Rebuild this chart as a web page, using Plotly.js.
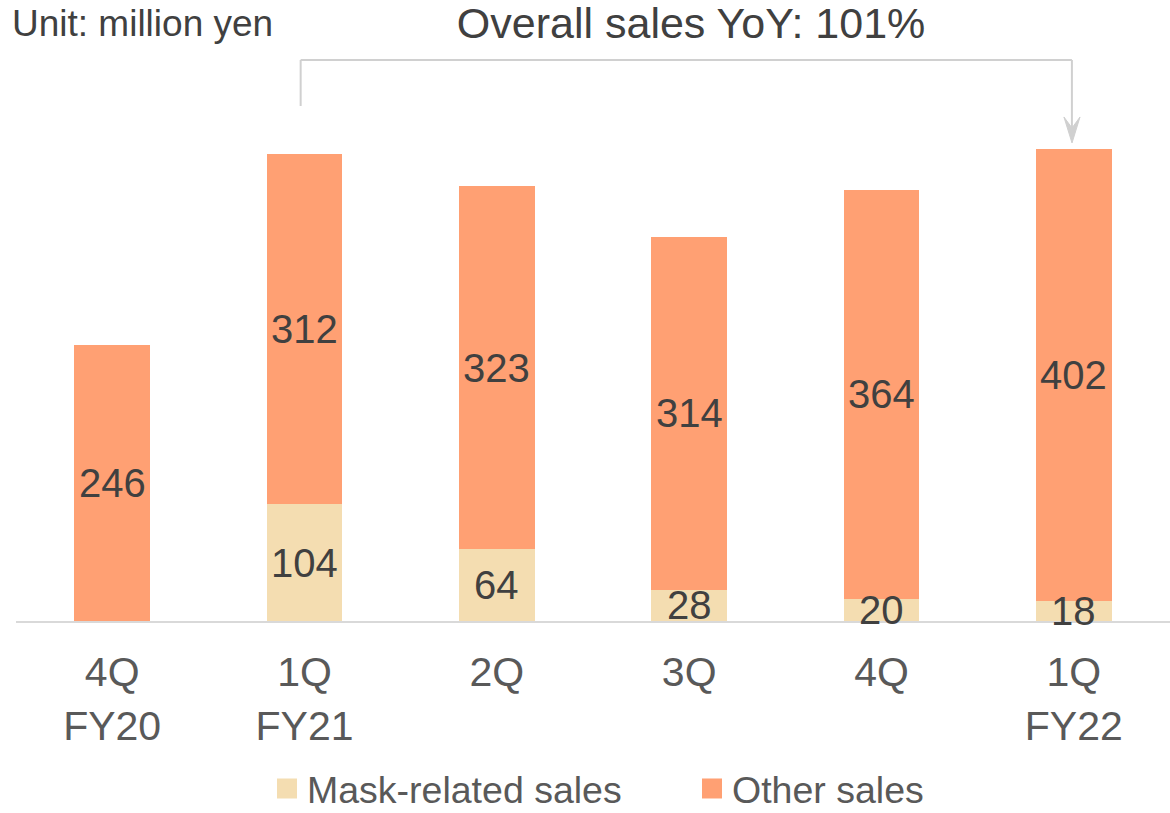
<!DOCTYPE html>
<html>
<head>
<meta charset="utf-8">
<script src="https://cdn.plot.ly/plotly-3.0.1.min.js"></script>
<style>html,body{margin:0;padding:0;background:#fff;}#chart{width:1170px;height:813px;}</style>
</head>
<body>
<div id="chart"></div>
<script>
const categories = ['4Q<br>FY20', '1Q<br>FY21', '2Q', '3Q', '4Q', '1Q<br>FY22'];
const maskSales = [0, 104, 64, 28, 20, 18];
const otherSales = [246, 312, 323, 314, 364, 402];
const seriesNames = ['Mask-related sales', 'Other sales'];
const chartTitle = 'Overall sales YoY: 101%';
const unitLabel = 'Unit: million yen';

const FONT = '"Liberation Sans", Arial, sans-serif';
const maskColor = '#F4DDB1';
const otherColor = '#FFA073';
const bracketColor = '#D0D0D0';

const traces = [
  { type: 'bar', name: seriesNames[0], x: categories, y: maskSales,
    marker: { color: maskColor, line: { width: 0 } }, hoverinfo: 'skip' },
  { type: 'bar', name: seriesNames[1], x: categories, y: otherSales,
    marker: { color: otherColor, line: { width: 0 } }, hoverinfo: 'skip' }
];

const annotations = [];
categories.forEach((c, i) => {
  if (maskSales[i] > 0) {
    annotations.push({ x: c, y: maskSales[i] / 2, xref: 'x', yref: 'y', text: String(maskSales[i]),
      showarrow: false, font: { family: FONT, size: 40, color: '#404040' }, yanchor: 'middle' });
  }
  annotations.push({ x: c, y: maskSales[i] + otherSales[i] / 2, xref: 'x', yref: 'y', text: String(otherSales[i]),
    showarrow: false, font: { family: FONT, size: 40, color: '#404040' }, yanchor: 'middle' });
});
annotations.push({ x: -0.0052, y: 1.146, xref: 'paper', yref: 'paper', xanchor: 'left', yanchor: 'middle',
  text: unitLabel, showarrow: false, font: { family: FONT, size: 37, color: '#404040' } });

// bracket from 1Q FY21 to 1Q FY22 with a stealth arrow head
const shapes = [
  { type: 'line', xref: 'x', yref: 'paper', x0: 0.98, x1: 0.98, y0: 0.9885, y1: 1.0768, line: { color: bracketColor, width: 2 } },
  { type: 'line', xref: 'x', yref: 'paper', x0: 0.98, x1: 4.99, y0: 1.0768, y1: 1.0768, line: { color: bracketColor, width: 2 } },
  { type: 'line', xref: 'x', yref: 'paper', x0: 4.99, x1: 4.99, y0: 1.0768, y1: 0.945, line: { color: bracketColor, width: 2 } },
  { type: 'path', xref: 'paper', yref: 'paper',
    path: 'M0.9151,0.9175 L0.9081,0.9674 L0.9151,0.9463 L0.9220,0.9674 Z',
    fillcolor: bracketColor, line: { color: bracketColor, width: 1 } }
];

const layout = {
  width: 1170, height: 813,
  margin: { l: 16, r: 0, t: 100, b: 192, autoexpand: false },
  paper_bgcolor: '#ffffff', plot_bgcolor: '#ffffff',
  barmode: 'stack', bargap: 0.605,
  showlegend: true,
  title: { text: chartTitle, x: 0.585, xref: 'paper', xanchor: 'center', y: 0.972, yref: 'container', yanchor: 'middle',
    font: { family: FONT, size: 43, color: '#404040' } },
  xaxis: { type: 'category', showline: true, linecolor: '#D9D9D9', linewidth: 2, showgrid: false, zeroline: false,
    ticks: '', ticklabelstandoff: 14, tickfont: { family: FONT, size: 41, color: '#595959' }, fixedrange: true },
  yaxis: { range: [0, 464], visible: false, showgrid: false, zeroline: false, fixedrange: true },
  legend: { orientation: 'h', x: 0.2175, xanchor: 'left', y: 0.03, yref: 'container', yanchor: 'middle',
    entrywidth: 380, entrywidthmode: 'pixels',
    font: { family: FONT, size: 37.5, color: '#595959' }, traceorder: 'normal' },
  annotations: annotations,
  shapes: shapes
};

Plotly.newPlot('chart', traces, layout, { displayModeBar: false, staticPlot: true }).then(gd => {
  // enlarge legend swatches to match the reference's squares
  gd.querySelectorAll('.legend .legendpoints path').forEach(p => p.setAttribute('d', 'M10,10H-10V-10H10Z'));
});
</script>
</body>
</html>
